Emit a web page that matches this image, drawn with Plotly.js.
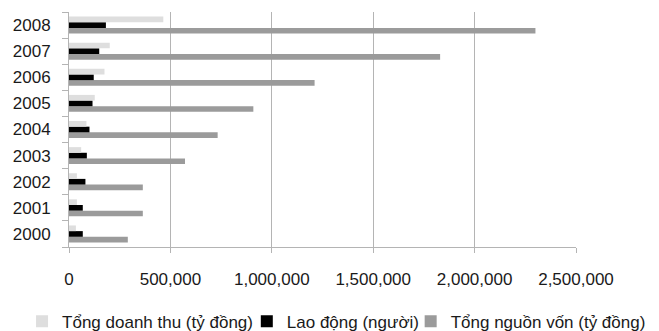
<!DOCTYPE html>
<html>
<head>
<meta charset="utf-8">
<script src="https://cdn.plot.ly/plotly-3.0.1.min.js"></script>
<style>
  html, body { margin: 0; padding: 0; background: #ffffff; }
  #chart { width: 659px; height: 331px; }
</style>
</head>
<body>
<div id="chart"></div>
<script>
// Years shown on the category axis (bottom to top)
const years = ['2000', '2001', '2002', '2003', '2004', '2005', '2006', '2007', '2008'];

// Series values per year
const doanhThu = [34000, 39000, 39000, 60000, 86000, 127000, 175000, 201000, 465000];      // Tổng doanh thu (tỷ đồng)
const laoDong = [68000, 68000, 81000, 88000, 101000, 116000, 122000, 149000, 182000];      // Lao động (người)
const nguonVon = [290000, 364000, 364000, 572000, 733000, 909000, 1211000, 1830000, 2300000]; // Tổng nguồn vốn (tỷ đồng)

// Series names for the legend
const seriesNames = ['Tổng doanh thu (tỷ đồng)', 'Lao động (người)', 'Tổng nguồn vốn (tỷ đồng)'];

// X axis tick values and labels
const xTickVals = [0, 500000, 1000000, 1500000, 2000000, 2500000];
const xTickText = ['0', '500,000', '1,000,000', '1,500,000', '2,000,000', '2,500,000'];

const FONT = '"Liberation Sans", Arial, sans-serif';
const TEXT = '#1a1a1a';

// In a horizontal group the first trace sits lowest, so the series are
// listed bottom-first; each one gets its own single-entry legend so the
// three entries can be laid out in one row under the axis.
const traces = [
  {
    type: 'bar', orientation: 'h', name: seriesNames[2], legend: 'legend3',
    y: years, x: nguonVon,
    marker: { color: '#9b9b9b', line: { width: 0 } }
  },
  {
    type: 'bar', orientation: 'h', name: seriesNames[1], legend: 'legend2',
    y: years, x: laoDong,
    marker: { color: '#000000', line: { width: 0 } }
  },
  {
    type: 'bar', orientation: 'h', name: seriesNames[0], legend: 'legend',
    y: years, x: doanhThu,
    marker: { color: '#dedede', line: { width: 0 } }
  }
];

function legendAt(x) {
  return {
    orientation: 'h',
    x: x, xref: 'paper', xanchor: 'left',
    y: -0.318, yref: 'paper', yanchor: 'middle',
    bgcolor: 'rgba(0,0,0,0)',
    borderwidth: 0,
    font: { family: FONT, size: 17, color: TEXT }
  };
}

const layout = {
  width: 659,
  height: 331,
  margin: { l: 69, r: 83, t: 12, b: 84, pad: 0, autoexpand: false },
  paper_bgcolor: '#ffffff',
  plot_bgcolor: '#ffffff',
  font: { family: FONT, size: 17, color: TEXT },
  barmode: 'group',
  bargap: 0.35,
  bargroupgap: 0,
  hovermode: false,
  showlegend: true,
  legend: legendAt(-0.0926),
  legend2: legendAt(0.3507),
  legend3: legendAt(0.6739),
  xaxis: {
    range: [0, 2500000],
    tickvals: xTickVals,
    ticktext: xTickText,
    tickangle: 0,
    automargin: false,
    showgrid: true,
    gridcolor: '#b4b4b4',
    gridwidth: 1,
    zeroline: false,
    showline: true,
    linecolor: '#b4b4b4',
    linewidth: 1,
    ticks: 'outside',
    ticklen: 5,
    tickcolor: '#b4b4b4',
    ticklabelstandoff: 12,
    tickfont: { family: FONT, size: 17, color: TEXT },
    fixedrange: true
  },
  yaxis: {
    type: 'category',
    categoryorder: 'array',
    categoryarray: years,
    automargin: false,
    showgrid: false,
    zeroline: false,
    showline: true,
    linecolor: '#b4b4b4',
    linewidth: 1,
    ticks: 'outside',
    tickson: 'boundaries',
    ticklen: 6,
    tickcolor: '#b4b4b4',
    ticklabelstandoff: 14,
    tickfont: { family: FONT, size: 17, color: TEXT },
    fixedrange: true
  }
};

Plotly.newPlot('chart', traces, layout, { displayModeBar: false, staticPlot: true });
</script>
</body>
</html>
